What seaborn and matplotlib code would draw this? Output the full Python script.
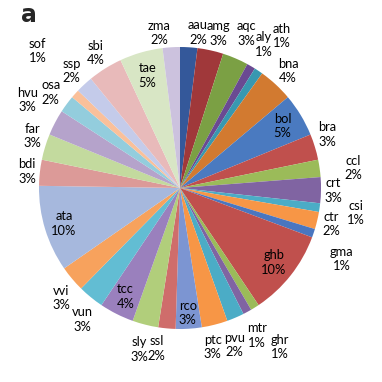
import numpy as np
import matplotlib
matplotlib.use("Agg")
import matplotlib.pyplot as plt
import seaborn as sns

# species codes, clockwise from 12 o'clock
species = ["aau", "amg", "aqc", "aly", "ath", "bna", "bol", "bra", "ccl", "crt",
           "csi", "ctr", "gma", "ghb", "ghr", "mtr", "pvu", "ptc", "rco", "ssl",
           "sly", "tcc", "vun", "vvi", "ata", "bdi", "far", "hvu", "osa", "sof",
           "ssp", "sbi", "tae", "zma"]
percent = [2, 3, 3, 1, 1, 4, 5, 3, 2, 3,
           1, 2, 1, 10, 1, 1, 2, 3, 3, 2,
           3, 4, 3, 3, 10, 3, 3, 3, 2, 1,
           2, 4, 5, 2]

slice_colors = ["#34589a", "#a0383a", "#7ba044", "#6a4a92", "#3898b0", "#d27a30",
                "#4a7ac0", "#c0504d", "#9bbb59", "#8064a2", "#4bacc6", "#f79646",
                "#4a76c0", "#c0504d", "#9bbb59", "#8064a2", "#4bacc6", "#f79646",
                "#7c95d2", "#cf6d6b", "#b1ce7b", "#9a80bd", "#62bdd3", "#f7a25d",
                "#a6b8dd", "#dc9a98", "#c3da9e", "#b5a3cb", "#93cddd", "#fac09a",
                "#c4cbea", "#e8baba", "#d8e6c5", "#ccc2de"]

# label placement (Excel "best fit"): radial distance, clockwise nudge in degrees
label_r = {"aau": 1.11, "amg": 1.13, "aqc": 1.19, "aly": 1.18, "ath": 1.30,
           "bna": 1.13, "bol": 0.85, "bra": 1.11, "ccl": 1.24, "crt": 1.085,
           "csi": 1.26, "ctr": 1.10, "gma": 1.25, "ghb": 0.85, "ghr": 1.33,
           "mtr": 1.18, "pvu": 1.18, "ptc": 1.15, "rco": 0.89, "ssl": 1.15,
           "sly": 1.18, "tcc": 0.86, "vun": 1.16, "vvi": 1.15, "ata": 0.86,
           "bdi": 1.09, "far": 1.11, "hvu": 1.25, "osa": 1.14, "sof": 1.40,
           "ssp": 1.13, "sbi": 1.13, "tae": 0.83, "zma": 1.11}
label_nudge = {"aau": 3, "amg": 1.5, "bra": -3, "ccl": 1.4, "gma": 5,
               "mtr": 1, "pvu": 4, "ptc": 2.6, "ssl": 3, "vun": -2.6,
               "vvi": -2.7, "far": 2.4, "hvu": 2.4, "sof": 2, "zma": -4}

sns.set_theme(style="white")
plt.rcParams["font.family"] = ["Lato", "DejaVu Sans"]

fig = plt.figure(figsize=(3.82, 3.82), dpi=100)
ax = fig.add_axes([0, 0, 1, 1])

wedges, _ = ax.pie(percent, colors=sns.color_palette(slice_colors),
                   startangle=90, counterclock=False, radius=1,
                   wedgeprops={"linewidth": 0})

for w, name, p in zip(wedges, species, percent):
    mid = np.deg2rad((w.theta1 + w.theta2) / 2 - label_nudge.get(name, 0))
    r = label_r[name]
    ax.text(r * np.cos(mid), r * np.sin(mid), f"{name}\n{p}%",
            ha="center", va="center", fontsize=9.3, color="black",
            linespacing=1.25)

scale = 141.0
ax.set_xlim(-180 / scale, 202 / scale)
ax.set_ylim(-194 / scale, 188 / scale)
ax.set_aspect("equal")
ax.axis("off")

fig.text(29 / 382, 1 - 15 / 382, "a", fontsize=17, fontweight="bold",
         ha="center", va="center", family="DejaVu Sans")

fig.savefig("out.png", dpi=100, facecolor="white")
